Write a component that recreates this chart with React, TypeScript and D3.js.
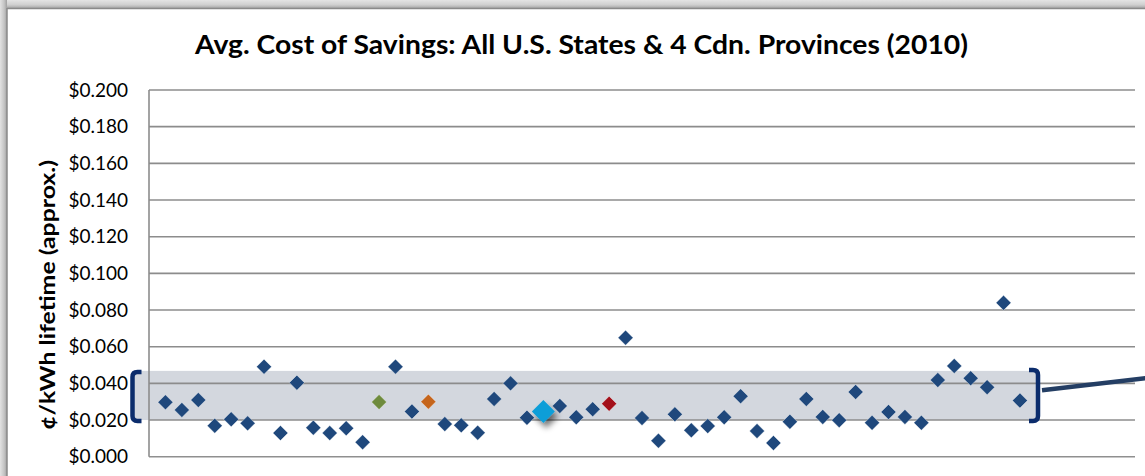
import React from "react";
import * as d3 from "d3";

const W = 1145;
const H = 476;

const chartTitle = "Avg. Cost of Savings: All U.S. States & 4 Cdn. Provinces (2010)";
const yAxisTitle = "¢/kWh lifetime (approx.)";
const yTicks = [0, 0.02, 0.04, 0.06, 0.08, 0.1, 0.12, 0.14, 0.16, 0.18, 0.2];

// average cost of savings per jurisdiction, in order of plotting
const costValues = [
  0.0297, 0.0255, 0.0309, 0.0169, 0.0204, 0.0182, 0.0491, 0.0129, 0.0404, 0.0158,
  0.0129, 0.0155, 0.0079, 0.0298, 0.0491, 0.0246, 0.0300, 0.0178, 0.0171, 0.0131,
  0.0315, 0.0400, 0.0213, 0.0246, 0.0277, 0.0215, 0.0259, 0.0289, 0.0649, 0.0211,
  0.0087, 0.0231, 0.0144, 0.0167, 0.0215, 0.0330, 0.0140, 0.0075, 0.0191, 0.0315,
  0.0217, 0.0199, 0.0353, 0.0185, 0.0244, 0.0217, 0.0185, 0.0418, 0.0495, 0.0428,
  0.0379, 0.0839, 0.0306,
];
// highlighted jurisdictions (1-based position in costValues)
const highlightGreen = [14];
const highlightOrange = [17];
const highlightFeatured = [24];
const highlightRed = [28];

// typical range band
const bandRange = [0.020, 0.0468];

export default function App() {
  const plotLeft = 149;
  const plotRight = 1135;
  const plotTop = 90;
  const plotBottom = 456.7;

  const x = d3.scaleLinear().domain([0, 60]).range([plotLeft, plotRight]);
  const y = d3.scaleLinear().domain([0, 0.2]).range([plotBottom, plotTop]);
  const fmt = (v: number) => "$" + d3.format(".3f")(v);

  const diamond = (cx: number, cy: number, r: number) =>
    `M${cx},${cy - r}L${cx + r},${cy}L${cx},${cy + r}L${cx - r},${cy}Z`;

  const colorFor = (i: number) => {
    const n = i + 1;
    if (highlightGreen.includes(n)) return "#6e8b3d";
    if (highlightOrange.includes(n)) return "#c5651c";
    if (highlightRed.includes(n)) return "#a3101a";
    if (highlightFeatured.includes(n)) return "#0f9ed8";
    return "#1f487c";
  };

  const bandTop = y(bandRange[1]);
  const bandBot = y(bandRange[0]);
  const bandL = 132.5;
  const bandR = 1038;

  const bracketColor = "#0b2c6c";
  const arm = 9;
  const rr = 5;
  const leftBracket = `M${bandL + arm},${bandTop + 1} L${bandL + rr},${bandTop + 1} Q${bandL},${bandTop + 1} ${bandL},${bandTop + 1 + rr} L${bandL},${bandBot + 1 - rr} Q${bandL},${bandBot + 1} ${bandL + rr},${bandBot + 1} L${bandL + arm},${bandBot + 1}`;
  const rightBracket = `M${bandR - arm},${bandTop - 1} L${bandR - rr},${bandTop - 1} Q${bandR},${bandTop - 1} ${bandR},${bandTop - 1 + rr} L${bandR},${bandBot + 1 - rr} Q${bandR},${bandBot + 1} ${bandR - rr},${bandBot + 1} L${bandR - arm},${bandBot + 1}`;

  const featured = costValues
    .map((v, i) => ({ v, i }))
    .filter((d) => highlightFeatured.includes(d.i + 1));
  const regular = costValues
    .map((v, i) => ({ v, i }))
    .filter((d) => !highlightFeatured.includes(d.i + 1));

  return (
    <svg
      width={W}
      height={H}
      style={{ position: "fixed", left: 0, top: 0, background: "#fff" }}
      fontFamily="Lato, 'Open Sans', sans-serif"
    >
      <defs>
        <linearGradient id="shL" x1="0" x2="1" y1="0" y2="0">
          <stop offset="0" stopColor="#e2e2e2" />
          <stop offset="0.6" stopColor="#c4c4c4" />
          <stop offset="1" stopColor="#a0a0a0" />
        </linearGradient>
        <linearGradient id="shT" x1="0" x2="0" y1="0" y2="1">
          <stop offset="0" stopColor="#e4e4e4" />
          <stop offset="0.6" stopColor="#cfcfcf" />
          <stop offset="1" stopColor="#a8a8a8" />
        </linearGradient>
        <filter id="dshadow" x="-50%" y="-50%" width="200%" height="200%">
          <feGaussianBlur in="SourceAlpha" stdDeviation="3" />
          <feOffset dx="3" dy="5" result="b" />
          <feComponentTransfer>
            <feFuncA type="linear" slope="0.55" />
          </feComponentTransfer>
          <feMerge>
            <feMergeNode />
            <feMergeNode in="SourceGraphic" />
          </feMerge>
        </filter>
      </defs>

      {/* frame shadow */}
      <rect x={0} y={0} width={W} height={8} fill="url(#shT)" />
      <rect x={0} y={0} width={7} height={H} fill="url(#shL)" />
      <line x1={7} x2={W} y1={8.5} y2={8.5} stroke="#8a8a8a" strokeWidth={1.5} />
      <line x1={7} x2={7} y1={8} y2={H} stroke="#8a8a8a" strokeWidth={1.5} />

      {/* title */}
      <text x={581.5} y={54} textAnchor="middle" fontSize={27} fontWeight="bold" fill="#000"
        textLength={773} lengthAdjust="spacingAndGlyphs">
        {chartTitle}
      </text>

      {/* band */}
      <rect x={bandL} y={bandTop} width={bandR - bandL} height={bandBot - bandTop} fill="#d3d7de" />

      {/* gridlines */}
      {yTicks.map((t) => (
        <line
          key={t}
          x1={plotLeft}
          x2={plotRight}
          y1={y(t)}
          y2={y(t)}
          stroke={t === 0 ? "#8f8f8f" : "#8c8c8c"}
          strokeWidth={1.6}
        />
      ))}
      <line x1={plotLeft} x2={plotLeft} y1={plotTop} y2={plotBottom} stroke="#8c8c8c" strokeWidth={1.6} />

      {/* tick labels */}
      {yTicks.map((t) => (
        <text key={"l" + t} x={128} y={y(t)} dy="0.35em" textAnchor="end" fontSize={19} fill="#000">
          {fmt(t)}
        </text>
      ))}

      {/* y axis title */}
      <text
        transform={`translate(48,${295}) rotate(-90)`}
        textAnchor="middle"
        dy="0.35em"
        fontSize={21}
        fontWeight="bold"
        fill="#000"
        textLength={270}
        lengthAdjust="spacingAndGlyphs"
      >
        {yAxisTitle}
      </text>

      {/* brackets and connector */}
      <path d={leftBracket} fill="none" stroke={bracketColor} strokeWidth={4.5} />
      <path d={rightBracket} fill="none" stroke={bracketColor} strokeWidth={4.5} />
      <line
        x1={bandR + 4}
        y1={y(0.0363)}
        x2={W + 2}
        y2={y(0.0429)}
        stroke="#243e64"
        strokeWidth={4.5}
      />

      {/* points */}
      {regular.map((d) => (
        <path
          key={d.i}
          d={diamond(x(d.i + 1), y(d.v), 7.5)}
          fill={colorFor(d.i)}
          stroke="#ffffff"
          strokeOpacity={0.6}
          strokeWidth={0.6}
        />
      ))}
      {featured.map((d) => (
        <path
          key={"f" + d.i}
          d={diamond(x(d.i + 1), y(d.v), 11.5)}
          fill={colorFor(d.i)}
          filter="url(#dshadow)"
        />
      ))}
    </svg>
  );
}
